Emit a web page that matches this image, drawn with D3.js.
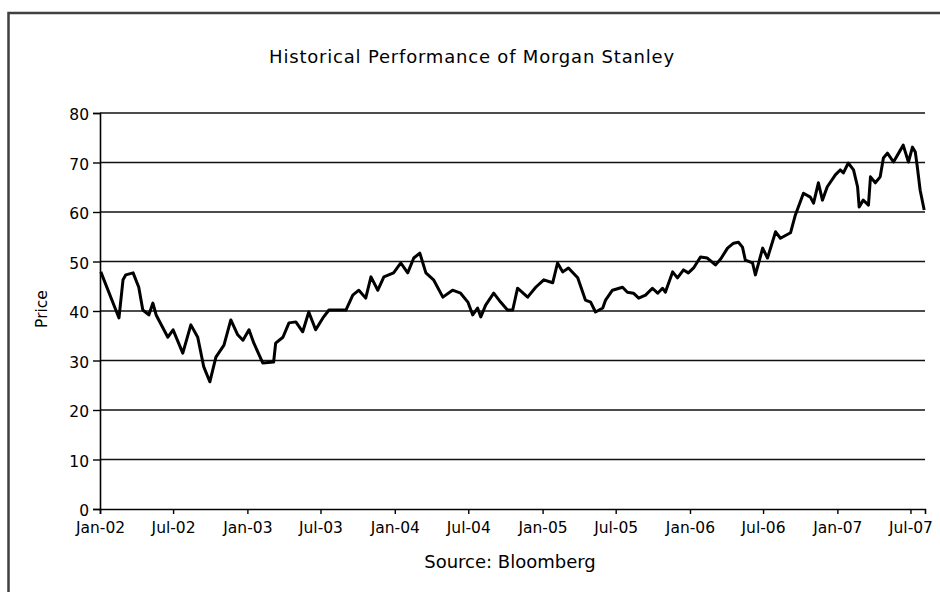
<!DOCTYPE html>
<html>
<head>
<meta charset="utf-8">
<script src="https://cdn.jsdelivr.net/npm/d3@7.9.0/dist/d3.min.js"></script>
<style>
  html, body { margin: 0; padding: 0; background: #fff; }
  svg { display: block; }
  text { font-family: "DejaVu Sans", Verdana, sans-serif; fill: #000; }
</style>
</head>
<body>
<svg id="chart" width="940" height="592"></svg>
<script>
const title = 'Historical Performance of Morgan Stanley';
const sourceNote = 'Source: Bloomberg';
const yLabel = 'Price';

const dates = [
  '2002-01-03', '2002-02-17', '2002-02-27', '2002-03-06', '2002-03-24', '2002-04-07',
  '2002-04-17', '2002-05-02', '2002-05-12', '2002-05-20', '2002-06-18', '2002-07-01',
  '2002-07-25', '2002-08-14', '2002-08-31', '2002-09-15', '2002-09-30', '2002-10-15',
  '2002-11-04', '2002-11-21', '2002-12-08', '2002-12-21', '2003-01-05', '2003-01-17',
  '2003-02-08', '2003-03-07', '2003-03-12', '2003-03-30', '2003-04-14', '2003-05-01',
  '2003-05-18', '2003-06-02', '2003-06-19', '2003-07-07', '2003-07-22', '2003-08-13',
  '2003-09-02', '2003-09-19', '2003-10-04', '2003-10-21', '2003-11-03', '2003-11-20',
  '2003-12-05', '2003-12-29', '2004-01-16', '2004-02-02', '2004-02-17', '2004-03-03',
  '2004-03-18', '2004-04-06', '2004-04-29', '2004-05-23', '2004-06-12', '2004-06-30',
  '2004-07-12', '2004-07-24', '2004-08-01', '2004-08-13', '2004-09-02', '2004-09-19',
  '2004-10-06', '2004-10-19', '2004-10-31', '2004-11-25', '2004-12-15', '2005-01-04',
  '2005-01-26', '2005-02-07', '2005-02-20', '2005-03-06', '2005-03-29', '2005-04-17',
  '2005-04-30', '2005-05-12', '2005-05-30', '2005-06-06', '2005-06-23', '2005-07-18',
  '2005-07-30', '2005-08-14', '2005-08-27', '2005-09-13', '2005-09-30', '2005-10-13',
  '2005-10-25', '2005-11-01', '2005-11-19', '2005-12-01', '2005-12-16', '2005-12-28',
  '2006-01-10', '2006-01-27', '2006-02-13', '2006-03-05', '2006-03-18', '2006-04-04',
  '2006-04-19', '2006-05-01', '2006-05-11', '2006-05-18', '2006-06-05', '2006-06-12',
  '2006-06-30', '2006-07-12', '2006-08-01', '2006-08-13', '2006-09-07', '2006-09-19',
  '2006-10-09', '2006-10-26', '2006-11-03', '2006-11-15', '2006-11-25', '2006-12-07',
  '2006-12-27', '2007-01-08', '2007-01-16', '2007-01-28', '2007-02-10', '2007-02-20',
  '2007-02-24', '2007-03-06', '2007-03-19', '2007-03-24', '2007-04-05', '2007-04-17',
  '2007-04-25', '2007-05-05', '2007-05-20', '2007-06-06', '2007-06-13', '2007-06-26',
  '2007-07-06', '2007-07-13', '2007-07-18', '2007-07-25', '2007-08-04'
];

const prices = [
  47.9, 38.6, 46.3, 47.3, 47.7, 44.8,
  40.2, 39.2, 41.6, 39.2, 34.7, 36.2,
  31.5, 37.2, 34.7, 28.7, 25.7, 30.7,
  33.1, 38.2, 35.2, 34.1, 36.2, 33.5,
  29.5, 29.7, 33.5, 34.7, 37.6, 37.8,
  35.8, 39.8, 36.2, 38.6, 40.2, 40.2,
  40.2, 43.2, 44.2, 42.6, 46.9, 44.2,
  46.9, 47.7, 49.7, 47.7, 50.7, 51.7,
  47.7, 46.3, 42.8, 44.2, 43.6, 41.8,
  39.2, 40.6, 38.8, 41.2, 43.6, 41.8,
  40.2, 40.2, 44.6, 42.8, 44.8, 46.3,
  45.7, 49.7, 47.9, 48.7, 46.7, 42.2,
  41.8, 39.8, 40.6, 42.2, 44.2, 44.8,
  43.8, 43.6, 42.6, 43.2, 44.6, 43.6,
  44.6, 43.8, 47.9, 46.7, 48.3, 47.7,
  48.7, 50.9, 50.7, 49.3, 50.5, 52.7,
  53.7, 53.9, 52.9, 50.3, 49.7, 47.3,
  52.7, 50.7, 56.0, 54.7, 55.8, 59.4,
  63.8, 63.0, 61.8, 65.9, 62.4, 65.1,
  67.5, 68.5, 67.9, 69.9, 68.5, 65.1,
  61.0, 62.4, 61.4, 67.1, 65.9, 67.1,
  70.9, 71.9, 70.1, 72.5, 73.5, 70.1,
  73.1, 72.1, 69.1, 64.4, 60.4
];

const yTicks = [0, 10, 20, 30, 40, 50, 60, 70, 80];
const xStart = '2002-01-01';
const xEnd = '2007-08-06';

const parse = d3.timeParse('%Y-%m-%d');
const data = dates.map((d, i) => ({ date: parse(d), price: prices[i] }));

const svg = d3.select('#chart');
const margin = { left: 100, right: 925, top: 113, bottom: 509 };

// outer chart-area frame (runs off the right and bottom edges)
svg.append('rect')
  .attr('x', 8.5).attr('y', 13)
  .attr('width', 960).attr('height', 620)
  .attr('fill', 'none')
  .attr('stroke', '#404040')
  .attr('stroke-width', 2.5);

const x = d3.scaleTime()
  .domain([parse(xStart), parse(xEnd)])
  .range([margin.left, margin.right]);

const y = d3.scaleLinear()
  .domain([0, 80])
  .range([margin.bottom, margin.top]);

// horizontal gridlines
svg.append('g')
  .selectAll('line')
  .data(yTicks.filter(t => t > 0))
  .join('line')
  .attr('x1', margin.left)
  .attr('x2', margin.right)
  .attr('y1', d => y(d))
  .attr('y2', d => y(d))
  .attr('stroke', '#111')
  .attr('stroke-width', 1.4);

// y axis
const yAxis = svg.append('g')
  .attr('transform', `translate(${margin.left},0)`)
  .call(d3.axisLeft(y).tickValues(yTicks).tickSize(7).tickPadding(4));
yAxis.select('.domain').attr('stroke', '#000').attr('stroke-width', 1.6);
yAxis.selectAll('.tick line').attr('stroke', '#000').attr('stroke-width', 1.4);
yAxis.selectAll('.tick text')
  .attr('font-size', '15.5px')
  .attr('font-family', '"DejaVu Sans", Verdana, sans-serif')
  .attr('dy', '0.45em');

// x axis
const xAxis = svg.append('g')
  .attr('transform', `translate(0,${margin.bottom})`)
  .call(d3.axisBottom(x)
    .ticks(d3.timeMonth.every(6))
    .tickFormat(d3.timeFormat('%b-%y'))
    .tickSize(5)
    .tickPadding(8));
xAxis.select('.domain').attr('stroke', '#000').attr('stroke-width', 1.6);
xAxis.selectAll('.tick line').attr('stroke', '#000').attr('stroke-width', 1.4);
xAxis.selectAll('.tick text')
  .attr('font-size', '15.5px')
  .attr('font-family', '"DejaVu Sans", Verdana, sans-serif');

// price line
const line = d3.line()
  .x(d => x(d.date))
  .y(d => y(d.price));

svg.append('path')
  .datum(data)
  .attr('d', line)
  .attr('fill', 'none')
  .attr('stroke', '#000')
  .attr('stroke-width', 3)
  .attr('stroke-linejoin', 'round');

// texts
svg.append('text')
  .attr('x', 472).attr('y', 63)
  .attr('text-anchor', 'middle')
  .attr('font-size', '18px')
  .attr('letter-spacing', '0.8px')
  .text(title);

svg.append('text')
  .attr('transform', 'translate(47,309) rotate(-90)')
  .attr('text-anchor', 'middle')
  .attr('font-size', '15.5px')
  .text(yLabel);

svg.append('text')
  .attr('x', 510).attr('y', 568)
  .attr('text-anchor', 'middle')
  .attr('font-size', '18px')
  .text(sourceNote);
</script>
</body>
</html>
